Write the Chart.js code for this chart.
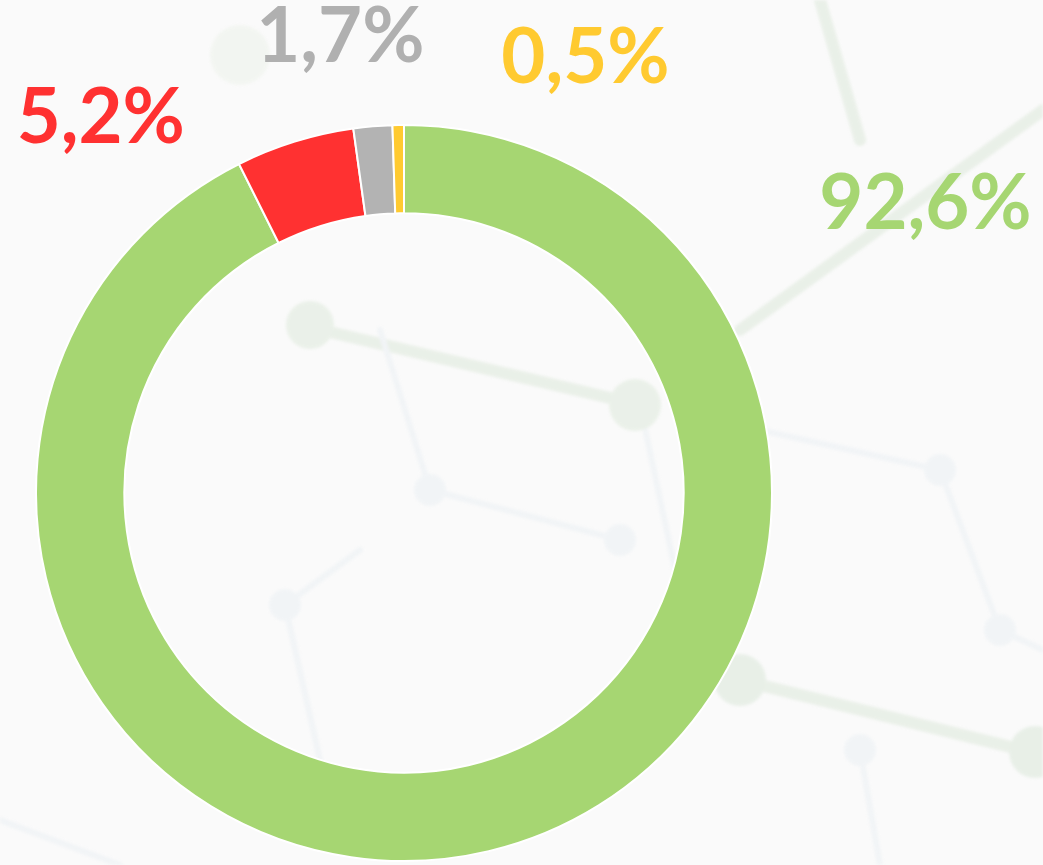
<!DOCTYPE html>
<html>
<head>
<meta charset="utf-8">
<script src="https://cdn.jsdelivr.net/npm/chart.js@4/dist/chart.umd.min.js"></script>
<style>
  html, body { margin: 0; padding: 0; background: #fafafa; overflow: hidden; }
  #wrap { position: relative; width: 1043px; height: 865px; }
  #bg { position: absolute; left: 0; top: 0; opacity: 0.7; filter: blur(1.5px); }
  #c { position: absolute; left: 0; top: 0; }
</style>
</head>
<body>
<div id="wrap">
<svg id="bg" width="1043" height="865" xmlns="http://www.w3.org/2000/svg">
  <g stroke-linecap="round" fill="none">
    <g stroke="#e3ece1" stroke-width="12">
      <line x1="300" y1="325" x2="640" y2="405"/>
      <line x1="740" y1="680" x2="1043" y2="755"/>
      <line x1="740" y1="330" x2="1043" y2="110"/>
      <line x1="820" y1="0" x2="860" y2="140"/>
    </g>
    <g stroke="#eef2f5" stroke-width="6">
      <line x1="640" y1="405" x2="690" y2="640"/>
      <line x1="760" y1="430" x2="940" y2="470"/>
      <line x1="940" y1="470" x2="1000" y2="630"/>
      <line x1="430" y1="490" x2="620" y2="540"/>
      <line x1="430" y1="490" x2="380" y2="330"/>
      <line x1="285" y1="605" x2="320" y2="760"/>
      <line x1="285" y1="605" x2="360" y2="550"/>
      <line x1="860" y1="750" x2="880" y2="865"/>
      <line x1="1000" y1="630" x2="1043" y2="650"/>
      <line x1="0" y1="820" x2="120" y2="865"/>
    </g>
  </g>
  <g>
    <circle cx="310" cy="325" r="24" fill="#e4ede2"/>
    <circle cx="635" cy="405" r="26" fill="#e4ede2"/>
    <circle cx="240" cy="55" r="30" fill="#f0f4ee"/>
    <circle cx="740" cy="680" r="26" fill="#e1ebe0"/>
    <circle cx="1035" cy="752" r="26" fill="#e1ebe0"/>
    <circle cx="430" cy="490" r="16" fill="#eef2f5"/>
    <circle cx="620" cy="540" r="16" fill="#eef2f5"/>
    <circle cx="285" cy="605" r="16" fill="#eef2f5"/>
    <circle cx="940" cy="470" r="16" fill="#eef2f5"/>
    <circle cx="1000" cy="630" r="16" fill="#eef2f5"/>
    <circle cx="860" cy="750" r="16" fill="#eef2f5"/>
  </g>
</svg>
<canvas id="c" width="1043" height="865"></canvas>
</div>
<script>
// ---- data ----
const categories = ["A", "B", "C", "D"];
const values = [92.6, 5.2, 1.7, 0.5];
const colors = ["#a6d672", "#ff3131", "#b3b3b3", "#ffca30"];
const labelColors = ["#a6d672", "#ff3131", "#b0b0b0", "#ffca30"];

// label placement relative to chart centre, in units of the outer radius
const labelDX = [1.417, -0.824, -0.173, 0.493];
const labelDY = [-0.718, -0.951, -1.171, -1.114];

function fmt(v) { return v.toFixed(1).replace('.', ',') + '%'; }

const labelPlugin = {
  id: 'outerLabels',
  afterDatasetsDraw(chart) {
    const meta = chart.getDatasetMeta(0);
    const arc0 = meta.data[0];
    const cx = arc0.x, cy = arc0.y, R = arc0.outerRadius;
    const ctx = chart.ctx;
    ctx.save();
    ctx.font = '700 76px Lato, "Open Sans", sans-serif';
    ctx.textAlign = 'center';
    ctx.textBaseline = 'alphabetic';
    chart.data.datasets[0].data.forEach((v, i) => {
      ctx.fillStyle = labelColors[i];
      ctx.fillText(fmt(v), cx + labelDX[i] * R, cy + labelDY[i] * R);
    });
    ctx.restore();
  }
};

new Chart(document.getElementById('c'), {
  type: 'doughnut',
  data: {
    labels: categories,
    datasets: [{
      data: values,
      backgroundColor: colors,
      borderColor: '#ffffff',
      borderWidth: 2
    }]
  },
  options: {
    responsive: false,
    animation: false,
    cutout: '76%',
    layout: { padding: { left: 35, right: 270, top: 124, bottom: 3 } },
    plugins: {
      legend: { display: false },
      tooltip: { enabled: false }
    }
  },
  plugins: [labelPlugin]
});
</script>
</body>
</html>
